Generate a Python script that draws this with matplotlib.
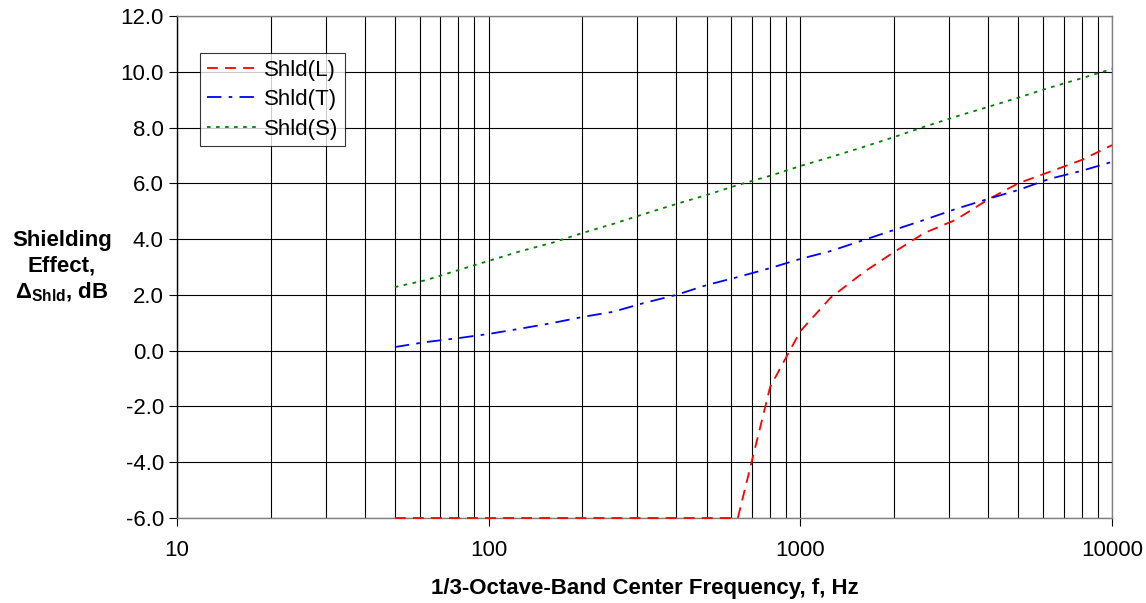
import matplotlib
matplotlib.use('Agg')
import matplotlib.pyplot as plt
from matplotlib.ticker import FixedLocator, FixedFormatter, NullLocator

plt.rcParams['font.family'] = ['Liberation Sans', 'DejaVu Sans']
plt.rcParams['mathtext.fontset'] = 'custom'
plt.rcParams['mathtext.rm'] = 'Liberation Sans'
plt.rcParams['mathtext.bf'] = 'Liberation Sans:bold'

# ── data (1/3-octave band centres, dB) ────────────────────────────────
freq = [50, 63, 80, 100, 125, 160, 200, 250, 315, 400, 500, 630,
        800, 1000, 1250, 1600, 2000, 2500, 3150, 4000, 5000, 6300, 8000, 10000]
shld_L = [-6, -6, -6, -6, -6, -6, -6, -6, -6, -6, -6, -6,
          -1.30, 0.70, 1.90, 2.82, 3.54, 4.22, 4.69, 5.42, 6.00, 6.41, 6.84, 7.37]
shld_T = [0.13, 0.31, 0.45, 0.60, 0.78, 0.99, 1.21, 1.39, 1.71, 2.00, 2.35, 2.64,
          2.96, 3.29, 3.57, 3.97, 4.33, 4.69, 5.08, 5.44, 5.76, 6.16, 6.45, 6.77]
shld_S = [2.28, 2.53, 2.89, 3.22, 3.55, 3.87, 4.22, 4.54, 4.90, 5.26, 5.58, 5.94,
          6.27, 6.62, 6.94, 7.31, 7.66, 8.03, 8.39, 8.74, 9.07, 9.43, 9.77, 10.10]

x_major = [10, 100, 1000, 10000]
x_grid = [m * d for d in (10, 100, 1000) for m in range(1, 10)] + [10000]
y_ticks = [-6, -4, -2, 0, 2, 4, 6, 8, 10, 12]

FS = 16

fig = plt.figure(figsize=(11.46, 6.03), dpi=100)
ax = fig.add_axes([177/1146, 1 - 518/603, (1112-177)/1146, (518-16)/603])

ax.set_xscale('log')
ax.set_xlim(10, 10000)
ax.set_ylim(-6, 12)

# grid
for xv in x_grid:
    ax.axvline(xv, color='black', lw=0.8, zorder=1)
for yv in y_ticks:
    ax.axhline(yv, color='black', lw=0.8, zorder=1)

ax.plot(freq, shld_L, color='red', lw=1.3, dashes=(6, 4), label='Shld(L)',
        zorder=3, clip_on=False)
ax.plot(freq, shld_T, color='blue', lw=1.3, dashes=(8, 4, 2, 4), label='Shld(T)', zorder=3)
ax.plot(freq, shld_S, color='green', lw=1.3, dashes=(2, 3), label='Shld(S)', zorder=3)

ax.xaxis.set_major_locator(FixedLocator(x_major))
ax.xaxis.set_major_formatter(FixedFormatter([str(v) for v in x_major]))
ax.xaxis.set_minor_locator(NullLocator())
ax.set_yticks(y_ticks)
ax.set_yticklabels([f'{v:.1f}' for v in y_ticks])
ax.tick_params(axis='both', labelsize=FS, direction='out', length=6, width=0.8)
ax.tick_params(axis='x', pad=10)
for s in ax.spines.values():
    s.set_color('#808080')
    s.set_linewidth(1.0)
ax.spines['left'].set_color('black')

ax.set_xlabel('1/3-Octave-Band Center Frequency, f, Hz', fontsize=FS,
              fontweight='bold', labelpad=12)
fig.text(62/1146, 1 - 267/603,
         'Shielding\nEffect,\n' + r'$\mathbf{\Delta_{Shld}}$' + ', dB',
         ha='center', va='center', fontsize=FS, fontweight='bold',
         linespacing=1.25)

leg = ax.legend(loc='upper left', bbox_to_anchor=((200-177)/935, (518-53)/502),
                fontsize=FS, frameon=True, fancybox=False, handlelength=2.2,
                borderpad=0.3, labelspacing=0.38, handletextpad=0.4,
                borderaxespad=0)
leg.get_frame().set_edgecolor('black')
leg.get_frame().set_linewidth(0.8)

fig.savefig('out.png', dpi=100, facecolor='white')
